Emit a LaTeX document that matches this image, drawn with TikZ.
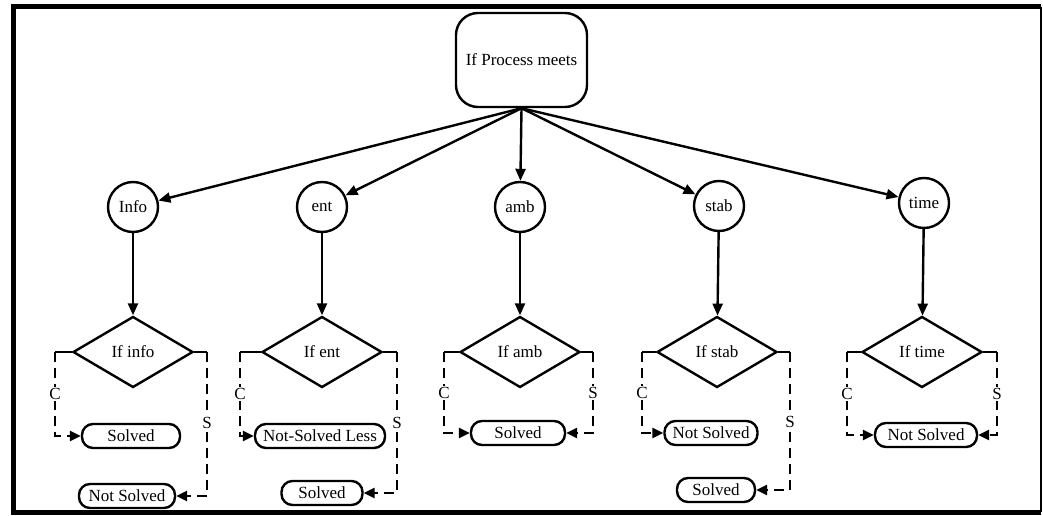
\documentclass[tikz,border=0pt]{standalone}
\usepackage{fontspec}
\setmainfont{Liberation Serif}
\usetikzlibrary{shapes.geometric,arrows.meta}
\begin{document}
\begin{tikzpicture}[x=1pt,y=-1pt,
  every node/.style={font=\fontsize{17}{20}\selectfont},
  ln/.style={line width=2.4pt},
  arr/.style={ln,-{Triangle[length=12pt,width=10pt]}},
  dsh/.style={line width=2.4pt,dash pattern=on 10pt off 6pt,-{Triangle[length=11pt,width=10pt]}},
  topbox/.style={draw,line width=2.4pt,rounded corners=22pt,minimum width=131pt,minimum height=94pt,inner sep=0pt},
  circ/.style={draw,circle,line width=2.4pt,minimum size=50pt,inner sep=0pt},
  dia/.style={draw,diamond,line width=2.4pt,minimum width=120pt,minimum height=71pt,inner sep=0pt},
  pill/.style={draw,line width=2.4pt,rounded corners=11pt,minimum height=24pt,inner xsep=4pt,inner ysep=0pt},
  lbl/.style={fill=white,inner sep=1pt}
]
\useasboundingbox (0,0) rectangle (1043,516);
% frame
\draw[line width=5pt] (13,512) -- (13,7) -- (1041,7);
\draw[line width=5pt] (11,512) -- (1041,512);
\draw[line width=1.4pt] (1041,7) -- (1041,512);

% top
\node[topbox] (top) at (521.5,60) {If Process meets};

% circles
\node[circ] (c1) at (133,207) {Info};
\node[circ] (c2) at (322,207) {ent};
\node[circ] (c3) at (520,207) {amb};
\node[circ] (c4) at (719,206) {stab};
\node[circ] (c5) at (924,203) {time};

\foreach \i in {1,...,5} \draw[arr] (top.south) -- (c\i);

% diamonds
\node[dia] (d1) at (133,352) {If info};
\node[dia] (d2) at (322,352) {If ent};
\node[dia] (d3) at (520,352) {If amb};
\node[dia] (d4) at (717,352) {If stab};
\node[dia] (d5) at (922,352) {If time};

\foreach \i in {1,...,5} \draw[arr] (c\i) -- (d\i);

% outcomes
\node[pill,minimum width=98pt] (s1) at (131,436) {Solved};
\node[pill,minimum width=96pt] (n1) at (127,496) {Not Solved};
\node[pill,minimum width=130pt] (s2) at (320,436) {Not-Solved Less};
\node[pill,minimum width=81pt] (n2) at (322,493) {Solved};
\node[pill,minimum width=94pt] (s3) at (518,433) {Solved};
\node[pill,minimum width=93pt] (s4) at (711,433) {Not Solved};
\node[pill,minimum width=78pt] (n4) at (716,490) {Solved};
\node[pill,minimum width=102pt] (s5) at (926,435) {Not Solved};

% stub coordinates
\coordinate (l1) at (55,352);  \coordinate (r1) at (207,352);
\coordinate (l2) at (240,352); \coordinate (r2) at (397,352);
\coordinate (l3) at (444,352); \coordinate (r3) at (593,352);
\coordinate (l4) at (642,352); \coordinate (r4) at (790,352);
\coordinate (l5) at (847,352); \coordinate (r5) at (997,352);

\foreach \i in {1,...,5} {
  \draw[ln] (d\i.west) -- (l\i);
  \draw[ln] (d\i.east) -- (r\i);
}

\draw[dsh] (l1) |- (s1.west);
\draw[dsh] (r1) |- (n1.east);
\draw[dsh] (l2) |- (s2.west);
\draw[dsh] (r2) |- (n2.east);
\draw[dsh] (l3) |- (s3.west);
\draw[dsh] (r3) |- (s3.east);
\draw[dsh] (l4) |- (s4.west);
\draw[dsh] (r4) |- (n4.east);
\draw[dsh] (l5) |- (s5.west);
\draw[dsh] (r5) |- (s5.east);

% labels
\node[lbl] (C1) at (55,394) {C};
\node[lbl] (C2) at (240,394) {C};
\node[lbl] (C3) at (444,393) {C};
\node[lbl] (C4) at (642,393) {C};
\node[lbl] (C5) at (847,394) {C};
\node[lbl] (S1) at (207,423) {S};
\node[lbl] (S2) at (397,423) {S};
\node[lbl] (S3) at (593,393) {S};
\node[lbl] (S4) at (790,422) {S};
\node[lbl] (S5) at (997,394) {S};
\end{tikzpicture}
\end{document}
